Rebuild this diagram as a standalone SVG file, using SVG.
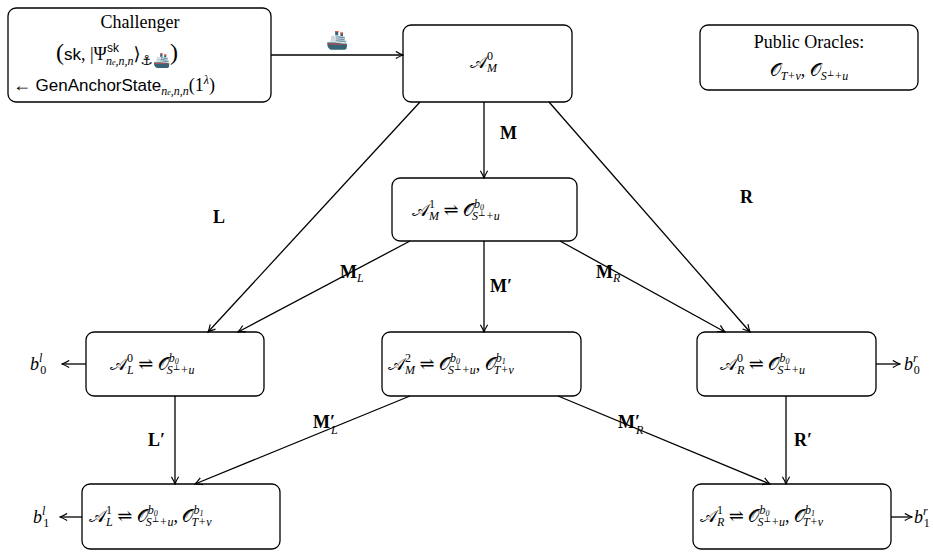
<svg xmlns="http://www.w3.org/2000/svg" width="933" height="556" viewBox="0 0 933 556">
<style>
.box{fill:#fff;stroke:#000;stroke-width:1.3}
.e{stroke:#000;stroke-width:1.3;fill:none;marker-end:url(#a)}
text{font-family:"Liberation Serif","DejaVu Serif",serif;font-size:18px;fill:#000}
.i{font-style:italic}
.s{font-size:12px}
.sf{font-family:"Liberation Sans","DejaVu Sans",sans-serif}
.b{font-weight:bold}
</style>
<defs><marker id="a" viewBox="0 0 10 10" refX="9" refY="5" markerWidth="9" markerHeight="9" orient="auto" markerUnits="userSpaceOnUse"><path d="M1,1 Q6,4 9,5 Q6,6 1,9" fill="none" stroke="#000" stroke-width="1.3"/></marker></defs>
<g id="challenger"><rect class="box" x="8" y="8" width="263" height="94" rx="8"/>
<text x="140" y="28" text-anchor="middle">Challenger</text>
<text x="56" y="60"><tspan font-size="24">(</tspan><tspan class="sf" font-size="17">sk</tspan>, |Ψ<tspan class="s sf" dy="-8">sk</tspan><tspan class="s i" dx="-13" dy="13">n<tspan font-size="8">e</tspan>,n,n</tspan><tspan dy="-5">⟩</tspan><tspan class="sf" font-size="14" dy="5">⚓🚢</tspan><tspan font-size="24" dy="-5">)</tspan></text>
<text x="13" y="91">← <tspan class="sf" font-size="17">GenAnchorState</tspan><tspan class="s i" dy="4">n<tspan font-size="8">e</tspan>,n,n</tspan><tspan dy="-4">(1</tspan><tspan class="s i" dy="-7">λ</tspan><tspan dy="7">)</tspan></text></g>
<g id="am0"><rect class="box" x="403" y="25" width="169" height="77" rx="8"/><text x="470" y="68">𝒜<tspan class="s" dy="-8">0</tspan><tspan class="s i" dx="-6" dy="12">M</tspan></text></g>
<g id="oracles"><rect class="box" x="700" y="25" width="218" height="65" rx="8"/><text x="809" y="48" text-anchor="middle">Public Oracles:</text><text x="809" y="76" text-anchor="middle">𝒪<tspan class="s i" dy="4">T+v</tspan><tspan dy="-4">, </tspan>𝒪<tspan class="s i" dy="4">S<tspan font-size="8" dy="-4">⊥</tspan><tspan dy="4">+u</tspan></tspan></text></g>
<g id="am1"><rect class="box" x="392" y="178" width="185" height="63" rx="8"/><text x="412" y="216">𝒜<tspan class="s" dy="-8">1</tspan><tspan class="s i" dx="-6" dy="12">M</tspan><tspan dy="-4"> ⇌ </tspan>𝒪<tspan class="s i" dy="-8">b<tspan font-size="8" dy="2">0</tspan></tspan><tspan class="s i" dx="-12" dy="10">S<tspan font-size="8" dy="-4">⊥</tspan><tspan dy="4">+u</tspan></tspan></text></g>
<g id="al0"><rect class="box" x="86" y="332" width="178" height="64" rx="8"/><text x="110" y="370">𝒜<tspan class="s" dy="-8">0</tspan><tspan class="s i" dx="-6" dy="12">L</tspan><tspan dy="-4"> ⇌ </tspan>𝒪<tspan class="s i" dy="-8">b<tspan font-size="8" dy="2">0</tspan></tspan><tspan class="s i" dx="-12" dy="10">S<tspan font-size="8" dy="-4">⊥</tspan><tspan dy="4">+u</tspan></tspan></text></g>
<g id="am2"><rect class="box" x="382" y="332" width="199" height="64" rx="8"/><text x="388" y="370">𝒜<tspan class="s" dy="-8">2</tspan><tspan class="s i" dx="-6" dy="12">M</tspan><tspan dy="-4"> ⇌ </tspan>𝒪<tspan class="s i" dy="-8">b<tspan font-size="8" dy="2">0</tspan></tspan><tspan class="s i" dx="-12" dy="10">S<tspan font-size="8" dy="-4">⊥</tspan><tspan dy="4">+u</tspan></tspan><tspan dy="-4">, </tspan>𝒪<tspan class="s i" dy="-8">b<tspan font-size="8" dy="2">1</tspan></tspan><tspan class="s i" dx="-12" dy="10">T+v</tspan></text></g>
<g id="ar0"><rect class="box" x="697" y="332" width="179" height="64" rx="8"/><text x="720" y="370">𝒜<tspan class="s" dy="-8">0</tspan><tspan class="s i" dx="-6" dy="12">R</tspan><tspan dy="-4"> ⇌ </tspan>𝒪<tspan class="s i" dy="-8">b<tspan font-size="8" dy="2">0</tspan></tspan><tspan class="s i" dx="-12" dy="10">S<tspan font-size="8" dy="-4">⊥</tspan><tspan dy="4">+u</tspan></tspan></text></g>
<g id="al1"><rect class="box" x="82" y="484" width="198" height="65" rx="8"/><text x="89" y="522">𝒜<tspan class="s" dy="-8">1</tspan><tspan class="s i" dx="-6" dy="12">L</tspan><tspan dy="-4"> ⇌ </tspan>𝒪<tspan class="s i" dy="-8">b<tspan font-size="8" dy="2">0</tspan></tspan><tspan class="s i" dx="-12" dy="10">S<tspan font-size="8" dy="-4">⊥</tspan><tspan dy="4">+u</tspan></tspan><tspan dy="-4">, </tspan>𝒪<tspan class="s i" dy="-8">b<tspan font-size="8" dy="2">1</tspan></tspan><tspan class="s i" dx="-12" dy="10">T+v</tspan></text></g>
<g id="ar1"><rect class="box" x="693" y="484" width="198" height="65" rx="8"/><text x="700" y="522">𝒜<tspan class="s" dy="-8">1</tspan><tspan class="s i" dx="-6" dy="12">R</tspan><tspan dy="-4"> ⇌ </tspan>𝒪<tspan class="s i" dy="-8">b<tspan font-size="8" dy="2">0</tspan></tspan><tspan class="s i" dx="-12" dy="10">S<tspan font-size="8" dy="-4">⊥</tspan><tspan dy="4">+u</tspan></tspan><tspan dy="-4">, </tspan>𝒪<tspan class="s i" dy="-8">b<tspan font-size="8" dy="2">1</tspan></tspan><tspan class="s i" dx="-12" dy="10">T+v</tspan></text></g>
<g id="connectors">
<path class="e" d="M271,55H403"/><path class="e" d="M420,102L208,332"/><path class="e" d="M549,102L750,332"/><path class="e" d="M484,102V178"/>
<path class="e" d="M410,241L238,332"/><path class="e" d="M484,241V332"/><path class="e" d="M560,241L725,332"/>
<path class="e" d="M175,396V484"/><path class="e" d="M410,396L195,484"/><path class="e" d="M558,396L770,484"/><path class="e" d="M786,396V484"/>
<path class="e" d="M86,364H62"/><path class="e" d="M876,364H900"/><path class="e" d="M82,517H60"/><path class="e" d="M891,517H912"/>
</g>
<g id="labels">
<text x="337" y="46" text-anchor="middle" class="sf" font-size="16">🚢</text>
<text x="500" y="139" class="b">M</text>
<text x="213" y="223" class="b">L</text>
<text x="740" y="203" class="b">R</text>
<text x="340" y="278" class="b">M<tspan class="s i" font-weight="normal" dy="4">L</tspan></text>
<text x="490" y="292" class="b">M′</text>
<text x="596" y="278" class="b">M<tspan class="s i" font-weight="normal" dy="4">R</tspan></text>
<text x="148" y="446" class="b">L′</text>
<text x="794" y="446" class="b">R′</text>
<text x="313" y="428" class="b">M′<tspan class="s i" font-weight="normal" dy="6" dx="-4">L</tspan></text>
<text x="618" y="428" class="b">M′<tspan class="s i" font-weight="normal" dy="6" dx="-4">R</tspan></text>
<text x="30" y="370" class="i">b<tspan class="s" dy="-8">l</tspan><tspan class="s" font-style="normal" dx="-2" dy="12">0</tspan></text>
<text x="904" y="370" class="i">b<tspan class="s" dy="-8">r</tspan><tspan class="s" font-style="normal" dx="-4" dy="12">0</tspan></text>
<text x="33" y="523" class="i">b<tspan class="s" dy="-8">l</tspan><tspan class="s" font-style="normal" dx="-2" dy="12">1</tspan></text>
<text x="914" y="523" class="i">b<tspan class="s" dy="-8">r</tspan><tspan class="s" font-style="normal" dx="-4" dy="12">1</tspan></text>
</g>
</svg>
